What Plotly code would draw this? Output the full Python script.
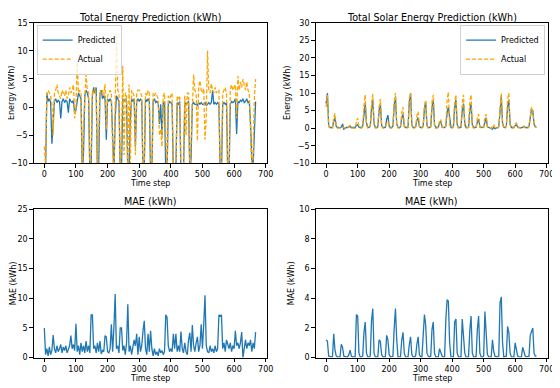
import plotly.graph_objects as go

# hourly steps sampled every 4th step (0..668)
time_step = list(range(0, 672, 4))

total_pred = [
    -10.5, -11, 2.5, 1.0, 1.5, 0.8,
    -6.5, -3, 1.0, 1.5, 0.8, 1.2,
    1.0, -2.0, 1.0, 1.5, 0.8, 1.2,
    1.0, -1.0, 1.5, 1.0, 0.8, 1.2,
    -1.1, -0.5, 1.5, 2.5, 2.0, 1.5,
    -12, -8, 2.0, 3.0, 2.5, 1.5,
    -12, -11, 2.0, 3.5, 2.5, 3.5,
    -12, -10, 2.5, 3.0, 1.5, 2.0,
    1.5, -5.8, 1.5, 1.0, 1.5, 1.0,
    -5, -12, -2, 2.0, 1.5, 1.0,
    -12, -11, 1.5, 1.0, 1.5, 1.0,
    -12, -11, -2, 1.5, 1.0, 1.5,
    -7, 1.0, 1.5, 1.0, 1.5, 1.0,
    -12, -11, 1.5, 1.0, 1.5, 1.0,
    -12, -12, 1.0, 1.5, 0.8, 1.0,
    0.8, -3, 0.5, -5, 0.8, 1.0,
    -12, -12, 0.5, 1.0, 0.8, 0.5,
    -12, -12, -11, 0.8, 0.5, 1.0,
    -12, -12, -12, 0.8, 0.5, 0.8,
    1.0, -12, -9, 0.5, 0.8, 0.5,
    0.5, 0.3, 0.8, 0.5, 0.8, 0.5,
    0.5, 0.8, 0.3, 0.5, 0.8, 0.5,
    0.8, 3.0, 0.5, 0.8, 0.5, 0.8,
    0.5, -12, -12, 0.5, 0.8, 0.5,
    0.8, -12, -12, 0.5, 1.0, 0.8,
    1.0, 1.5, -4.8, 1.0, 0.8, 1.2,
    1.0, 1.5, 0.8, 1.0, 1.5, 0.8,
    1.0, -3, -9.5, -10.5, -6, 1.0,
]

total_actual = [
    -7, -10.5, 2.5, 3.0, 2.5, 2.0,
    0.5, -5.0, 2.5, 3.0, 4.0, 2.5,
    2.0, 1.5, 3.0, 2.5, 2.0, 3.0,
    1.5, 2.0, 3.5, 2.5, 3.0, 4.0,
    -2.0, 0.0, 8.0, 2.5, 3.0, 2.5,
    -12, -3, 2.5, 5.8, 3.0, 2.5,
    -12, -8, 3.0, 2.5, 3.5, 2.0,
    -12, -6, 3.0, 2.5, 3.0, 2.0,
    4.1, -4, 2.0, 2.5, 3.0, 2.5,
    -8, -12, 1.0, 13.0, 3.0, 2.5,
    -12, -6, 7.3, -8.5, 2.5, 2.0,
    -12, 4.0, -10, 3.0, 2.5, 2.0,
    -8.5, 2.5, 3.0, 3.0, 2.5, 2.0,
    -12, -10, 2.5, 2.0, 3.0, 2.5,
    -12, -12, 2.5, 2.0, 2.5, 2.0,
    1.5, -5, -3.9, -7, 2.0, 2.5,
    -12, -12, 2.0, 1.5, 2.0, 2.5,
    -12, -12, -10, 2.0, 1.5, 2.0,
    -12, -12, -12, 2.0, -5, 2.5,
    2.5, -12, -6, 3.0, 5.8, 3.0,
    2.5, -6, 3.5, 4.7, 3.0, 2.5,
    3.3, -5.8, -2, 10.0, 3.0, 2.5,
    4.2, 3.0, 2.5, 3.5, 2.5, 3.0,
    3.0, -12, -12, 2.5, 3.0, 3.5,
    2.5, -12, -12, 3.0, 4.0, 3.0,
    3.5, 4.0, -2.0, 5.5, 3.0, 4.5,
    3.5, 5.0, 4.0, 3.0, 4.5, 3.0,
    2.5, -4, -11, -9, 1.5, 5.0,
]

solar_pred = [
    7.0, 10.0, 0.6, 0.2, 0.2, 0.2,
    2.0, 3.0, 0.5, 0.2, 0.2, 0.1,
    0.3, 1.2, -0.3, 0.1, 0.2, 0.2,
    0.3, 0.5, 0.2, 0.2, 0.1, 0.2,
    0.8, 1.0, 0.3, 0.2, 0.2, 0.6,
    5.0, 7.0, 1.5, 0.3, 0.2, 0.6,
    5.5, 8.0, 1.2, 0.3, 0.2, 0.4,
    5.0, 7.0, 0.8, 0.2, 0.2, 0.3,
    2.5, 3.7, 0.6, 0.2, 0.2, 0.6,
    6.5, 9.0, 1.2, 0.3, 0.2, 0.4,
    3.0, 4.0, 0.6, 0.2, 0.2, 0.3,
    7.5, 10.0, 1.0, 0.2, 0.2, 0.4,
    2.2, 3.0, 0.5, 0.2, 0.2, 0.5,
    5.5, 7.5, 0.8, 0.2, 0.2, 0.4,
    6.0, 8.0, 1.0, 0.2, 0.2, 0.3,
    1.5, 2.0, 0.3, 0.2, 0.2, 0.6,
    4.5, 6.0, 2.5, 0.3, 0.2, 0.5,
    6.0, 8.0, 1.0, 0.2, 0.2, 0.3,
    5.0, 7.0, 1.5, 0.2, 0.2, 0.3,
    5.0, 7.0, 1.0, 0.2, 0.2, 0.3,
    1.8, 2.5, 0.4, 0.2, 0.2, 0.3,
    2.2, 3.0, 0.4, 0.2, 0.1, 0.0,
    -0.3, 0.3, -0.2, 0.1, 0.1, 0.4,
    6.0, 9.0, 1.5, 0.3, 0.2, 0.5,
    6.0, 8.0, 1.2, 0.2, 0.2, 0.2,
    0.8, 1.0, 0.3, 0.2, 0.2, 0.1,
    0.3, 0.5, 0.2, 0.2, 0.2, 0.5,
    2.5, 5.5, 5.0, 1.2, 0.4, 0.3,
]

solar_actual = [
    6.0, 9.5, 0.5, 0.0, 0.0, 0.0,
    3.0, 4.2, 0.3, 0.0, 0.0, 0.0,
    0.2, 0.3, 0.1, 0.0, 0.0, 0.0,
    0.5, 0.8, 0.1, 0.0, 0.0, 0.0,
    1.8, 2.8, 0.3, 0.0, 0.0, 0.4,
    6.5, 9.5, 1.0, 0.0, 0.0, 0.5,
    7.0, 9.7, 0.8, 0.0, 0.0, 0.3,
    6.0, 8.3, 0.6, 0.0, 0.0, 0.2,
    1.5, 2.0, 0.3, 0.0, 0.0, 0.5,
    7.5, 10.0, 1.0, 0.0, 0.0, 0.3,
    4.5, 6.0, 0.5, 0.0, 0.0, 0.2,
    8.5, 10.0, 0.8, 0.0, 0.0, 0.3,
    3.5, 4.7, 0.4, 0.0, 0.0, 0.5,
    6.5, 8.0, 0.7, 0.0, 0.0, 0.4,
    7.5, 9.5, 0.8, 0.0, 0.0, 0.2,
    2.0, 2.5, 0.2, 0.0, 0.0, 0.6,
    8.0, 10.3, 1.0, 0.0, 0.0, 0.4,
    7.5, 9.5, 0.8, 0.0, 0.0, 0.3,
    7.0, 9.5, 0.7, 0.0, 0.0, 0.2,
    7.5, 9.5, 0.6, 0.0, 0.0, 0.2,
    3.0, 4.0, 0.3, 0.0, 0.0, 0.3,
    3.0, 4.0, 0.3, 0.0, 0.0, 0.0,
    0.6, 1.0, 0.1, 0.0, 0.0, 0.4,
    7.0, 10.0, 1.2, 0.0, 0.0, 0.5,
    8.0, 10.0, 0.8, 0.0, 0.0, 0.1,
    1.2, 1.5, 0.2, 0.0, 0.0, 0.0,
    0.4, 0.6, 0.1, 0.0, 0.0, 0.5,
    3.0, 6.0, 5.0, 1.0, 0.3, 0.3,
]

mae_total = [
    5.0, 0.5, 1.5, 0.3, 1.8, 0.5,
    1.2, 3.8, 1.5, 0.8, 2.0, 1.0,
    1.5, 2.2, 0.8, 1.8, 1.2, 2.0,
    0.8, 1.5, 2.0, 3.7, 1.5, 2.2,
    1.2, 5.7, 1.0, 2.0, 0.5, 2.5,
    1.0, 2.0, 0.8, 2.8, 1.0, 2.0,
    0.8, 7.2, 7.2, 1.5, 2.0, 0.8,
    2.5, 1.0, 2.8, 0.6, 1.2, 1.0,
    3.7, 3.5, 1.0, 0.8, 1.5, 5.6,
    1.0, 5.0, 10.7, 1.5, 2.0, 0.8,
    5.0, 5.0, 1.2, 2.0, 0.5, 2.5,
    9.0, 1.0, 2.0, 0.5, 1.5, 3.0,
    2.0, 4.0, 0.5, 3.5, 1.0, 2.0,
    4.5, 6.2, 1.5, 0.5, 4.0, 1.0,
    4.5, 1.5, 0.3, 1.5, 0.5, 1.0,
    0.3, 1.5, 0.8, 1.2, 0.5, 1.0,
    7.2, 6.8, 2.0, 1.0, 1.5, 1.0,
    4.0, 1.5, 4.0, 1.0, 2.0, 1.0,
    4.4, 1.5, 0.8, 2.5, 1.0, 0.5,
    3.0, 4.2, 1.0, 5.5, 2.0, 1.0,
    2.5, 3.5, 1.0, 2.0, 5.6, 1.5,
    5.6, 10.5, 2.0, 1.0, 0.8, 2.0,
    1.0, 1.5, 0.8, 2.0, 1.0, 1.5,
    7.2, 7.0, 7.2, 1.5, 2.5, 1.0,
    3.0, 2.0, 1.5, 2.5, 1.0, 2.0,
    1.5, 4.5, 2.0, 2.5, 1.5, 2.5,
    4.3, 0.0, 2.0, 3.0, 1.5, 2.5,
    2.0, 3.0, 1.0, 2.5, 1.5, 4.3,
]

mae_solar = [
    1.2, 1.1, 0.1, 0.05, 0.05, 0.05,
    1.6, 0.5, 0.1, 0.05, 0.05, 0.05,
    0.9, 0.7, 0.1, 0.05, 0.05, 0.05,
    0.2, 0.5, 0.1, 0.05, 0.05, 0.05,
    2.9, 2.8, 0.3, 0.05, 0.05, 0.1,
    1.7, 2.4, 0.3, 0.05, 0.05, 0.1,
    2.5, 3.3, 0.3, 0.05, 0.05, 0.05,
    1.2, 1.1, 0.2, 0.05, 0.05, 0.05,
    1.5, 1.2, 0.2, 0.05, 0.05, 0.1,
    2.0, 3.3, 1.2, 0.05, 0.05, 0.05,
    1.2, 1.7, 0.3, 0.05, 0.05, 0.05,
    0.9, 1.4, 0.2, 0.05, 0.05, 0.1,
    0.9, 1.4, 0.2, 0.05, 0.05, 1.6,
    2.9, 2.2, 0.3, 0.1, 0.05, 0.1,
    1.9, 2.4, 0.3, 0.05, 0.05, 0.05,
    0.6, 0.3, 0.1, 0.05, 0.05, 2.6,
    3.9, 3.8, 1.0, 0.05, 0.05, 0.05,
    2.4, 2.6, 0.3, 0.05, 0.05, 0.05,
    2.6, 1.7, 0.3, 0.05, 0.05, 0.05,
    1.8, 2.8, 0.3, 0.05, 0.05, 0.05,
    1.9, 2.8, 0.3, 0.05, 0.05, 0.1,
    3.1, 1.5, 0.2, 0.05, 0.05, 0.05,
    1.2, 0.4, 0.1, 0.05, 0.05, 0.1,
    3.7, 4.1, 1.0, 0.05, 0.05, 0.1,
    2.1, 1.7, 0.3, 0.05, 0.05, 0.05,
    1.0, 0.6, 0.1, 0.05, 0.05, 0.05,
    0.7, 0.4, 0.1, 0.05, 0.05, 0.1,
    1.5, 1.8, 2.0, 0.3, 0.1, 0.1,
]

BLUE = "#1f77b4"
ORANGE = "#ffa500"
FONT = "DejaVu Sans"
# page body has an 8px margin, so the figure is drawn 8px in and shrunk to fit
OFF = 8
W, H = 560 - OFF, 388 - OFF


def px_x(p):
    return (p - OFF) / W


def px_y(p):
    return 1 - (p - OFF) / H


fig = go.Figure()

panels = [
    ("x", "y", [("Predicted", total_pred, "solid", BLUE, "legend"),
                ("Actual", total_actual, "4px,2px", ORANGE, "legend")]),
    ("x2", "y2", [("Predicted", solar_pred, "solid", BLUE, "legend2"),
                  ("Actual", solar_actual, "4px,2px", ORANGE, "legend2")]),
    ("x3", "y3", [("MAE", mae_total, "solid", BLUE, None)]),
    ("x4", "y4", [("MAE", mae_solar, "solid", BLUE, None)]),
]

for xa, ya, series in panels:
    for name, vals, dash, color, leg in series:
        fig.add_trace(go.Scatter(
            x=time_step, y=vals, mode="lines", name=name,
            line=dict(color=color, width=1.3, dash=dash),
            xaxis=xa, yaxis=ya,
            showlegend=leg is not None,
            legend=leg if leg else "legend",
        ))

# axes boxes in page pixels: left, right, top, bottom
boxes = [(34, 270, 19, 163), (319, 554, 19, 163),
         (34, 270, 210, 362), (319, 554, 210, 362)]
title_y = [13.5, 13.5, 202, 202]
yranges = [[-10, 15], [-10, 30], [0, 25], [0, 10]]
ydticks = [5, 5, 5, 2]
titles = ["Total Energy Prediction (kWh)", "Total Solar Energy Prediction (kWh)",
          "MAE (kWh)", "MAE (kWh)"]
ylabels = ["Energy (kWh)", "Energy (kWh)", "MAE (kWh)", "MAE (kWh)"]
ylabel_x = [11, 290, 13, 295]

axis_common = dict(
    showline=True, linecolor="black", linewidth=1, mirror=True,
    ticks="outside", ticklen=3.5, tickcolor="black", showgrid=False,
    zeroline=False, tickfont=dict(family=FONT, size=8, color="black"),
)

layout = {}
annotations = []
for i, (l, r, t, b) in enumerate(boxes):
    sfx = "" if i == 0 else str(i + 1)
    layout["xaxis" + sfx] = dict(
        axis_common, domain=[px_x(l), px_x(r)], range=[-33.5, 704.5],
        tickmode="linear", tick0=0, dtick=100, anchor="y" + sfx,
    )
    layout["yaxis" + sfx] = dict(
        axis_common, domain=[px_y(b), px_y(t)], range=yranges[i],
        tickmode="linear", tick0=0, dtick=ydticks[i], anchor="x" + sfx,
    )
    annotations.append(dict(
        text=titles[i], x=px_x((l + r) / 2), y=px_y(title_y[i]), xref="paper", yref="paper",
        xanchor="center", yanchor="middle", showarrow=False,
        font=dict(family=FONT, size=9.6, color="black"),
    ))
    annotations.append(dict(
        text="Time step", x=px_x((l + r) / 2), y=px_y(b + 21), xref="paper", yref="paper",
        xanchor="center", yanchor="middle", showarrow=False,
        font=dict(family=FONT, size=8, color="black"),
    ))
    annotations.append(dict(
        text=ylabels[i], x=px_x(ylabel_x[i]), y=px_y((t + b) / 2), xref="paper", yref="paper",
        xanchor="center", yanchor="middle", showarrow=False, textangle=-90,
        font=dict(family=FONT, size=8, color="black"),
    ))

legend_style = dict(
    bgcolor="rgba(255,255,255,0.8)", bordercolor="#d0d0d0", borderwidth=1,
    font=dict(family=FONT, size=8, color="black"), itemwidth=30,
    tracegroupgap=0,
)

fig.update_layout(
    width=W, height=H,
    margin=dict(l=0, r=0, t=0, b=0),
    paper_bgcolor="white", plot_bgcolor="white",
    annotations=annotations,
    legend=dict(legend_style, x=px_x(37), y=px_y(21), xanchor="left", yanchor="top"),
    legend2=dict(legend_style, x=px_x(551), y=px_y(21), xanchor="right", yanchor="top"),
    **layout,
)

fig.write_html("out.html")
